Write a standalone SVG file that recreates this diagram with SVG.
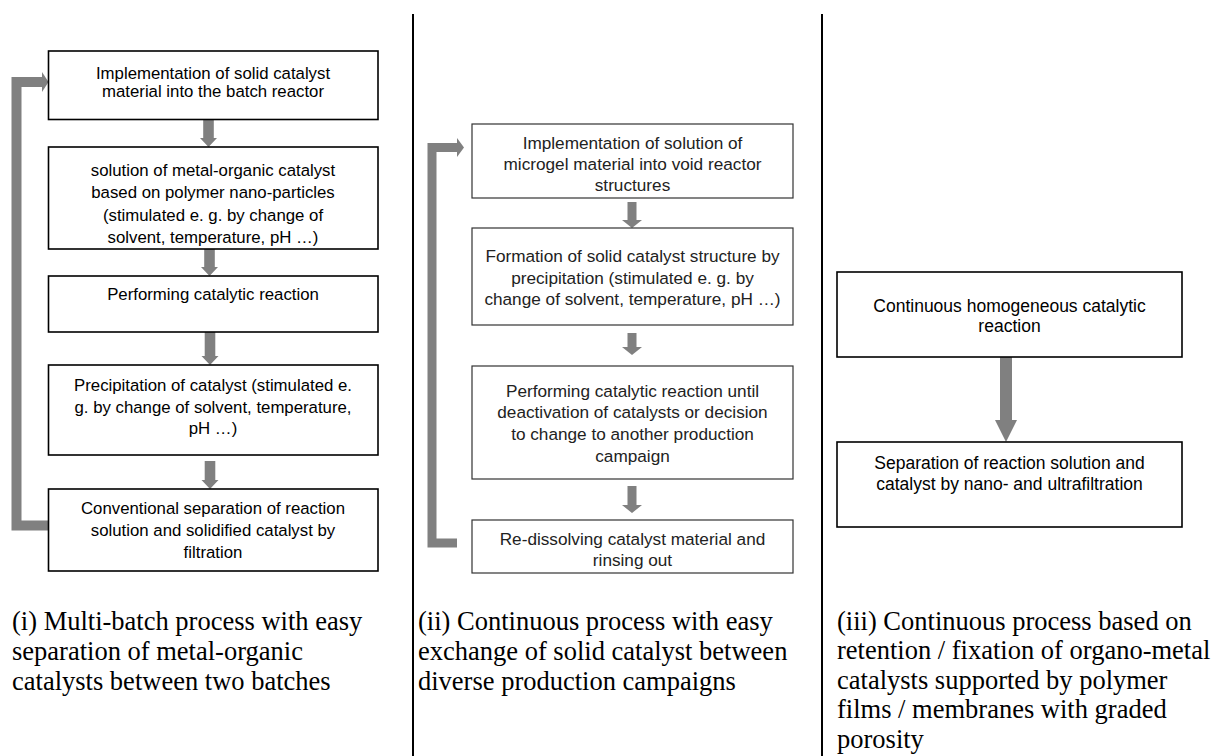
<svg xmlns="http://www.w3.org/2000/svg" width="1215" height="756" viewBox="0 0 1215 756">
<style>
.box{fill:#fff;stroke:#000;stroke-width:1.6}
.box2{fill:#fff;stroke:#333;stroke-width:1.2}
.t1{font-family:"Liberation Sans",Arial,sans-serif;font-size:16.8px;fill:#000;text-anchor:middle}
.t2{font-family:"Liberation Sans",Arial,sans-serif;font-size:17.2px;fill:#222;text-anchor:middle}
.t3{font-family:"Liberation Sans",Arial,sans-serif;font-size:17.5px;fill:#000;text-anchor:middle}
.cap{font-family:"Liberation Serif","Times New Roman",serif;font-size:26.5px;fill:#000}
.arrow{fill:#808080;stroke:none}
.loop{fill:none;stroke:#808080;stroke-linejoin:miter}
.div{stroke:#000;stroke-width:2}
</style>
<rect width="1215" height="756" fill="#fff"/>
<g id="dividers">
<line class="div" x1="413" y1="14" x2="413" y2="756"/>
<line class="div" x1="822" y1="14" x2="822" y2="756"/>
</g>
<g id="connectors">
<path class="loop" stroke-width="10" d="M48,525.5 H16.5 V82 H42"/>
<polygon class="arrow" points="42,72 48.5,82 42,92"/>
<polygon class="arrow" points="203.2,120 213.8,120 213.8,138 217,138 208.5,147 200,138 203.2,138"/>
<polygon class="arrow" points="204.2,249 214.8,249 214.8,267 218,267 209.5,276 201,267 204.2,267"/>
<polygon class="arrow" points="204.7,332 215.3,332 215.3,356 218.5,356 210,365 201.5,356 204.7,356"/>
<polygon class="arrow" points="204.7,461 215.3,461 215.3,480 218.5,480 210,489 201.5,480 204.7,480"/>
<path class="loop" stroke-width="9" d="M457,543 H432 V147.5 H457.5"/>
<polygon class="arrow" points="457,138 464,147.5 457,157"/>
<polygon class="arrow" points="627.5,202 636.5,202 636.5,220 642,220 632,228 622,220 627.5,220"/>
<polygon class="arrow" points="627.5,333 636.5,333 636.5,347 642,347 632,355 622,347 627.5,347"/>
<polygon class="arrow" points="627.5,486 636.5,486 636.5,505 642,505 632,513 622,505 627.5,505"/>
<polygon class="arrow" points="1000,357 1012,357 1012,420 1017,420 1006,442 995,420 1000,420"/>
</g>
<g id="node-i1">
<rect class="box" x="48.5" y="51" width="329.5" height="68.5"/>
<text class="t1" x="213" y="78.5">Implementation of solid catalyst</text>
<text class="t1" x="213" y="96.5">material into the batch reactor</text>
</g>
<g id="node-i2">
<rect class="box" x="48.5" y="147" width="329.5" height="102"/>
<text class="t1" x="213" y="175.7">solution of metal-organic catalyst</text>
<text class="t1" x="213" y="198.3">based on polymer nano-particles</text>
<text class="t1" x="213" y="220.8">(stimulated e. g. by change of</text>
<text class="t1" x="213" y="243.3">solvent, temperature, pH …)</text>
</g>
<g id="node-i3">
<rect class="box" x="48.5" y="276" width="329.5" height="56"/>
<text class="t1" x="213" y="300">Performing catalytic reaction</text>
</g>
<g id="node-i4">
<rect class="box" x="48.5" y="365" width="329.5" height="90"/>
<text class="t1" x="213" y="390.7">Precipitation of catalyst (stimulated e.</text>
<text class="t1" x="213" y="412.5">g. by change of solvent, temperature,</text>
<text class="t1" x="213" y="434.2">pH …)</text>
</g>
<g id="node-i5">
<rect class="box" x="48.5" y="489" width="329.5" height="82"/>
<text class="t1" x="213" y="514.2">Conventional separation of reaction</text>
<text class="t1" x="213" y="536">solution and solidified catalyst by</text>
<text class="t1" x="213" y="557.6">filtration</text>
</g>
<g id="node-ii1">
<rect class="box2" x="472" y="124" width="321" height="74"/>
<text class="t2" x="632.5" y="149">Implementation of solution of</text>
<text class="t2" x="632.5" y="170">microgel material into void reactor</text>
<text class="t2" x="632.5" y="191">structures</text>
</g>
<g id="node-ii2">
<rect class="box2" x="472" y="228" width="321" height="97"/>
<text class="t2" x="632.5" y="262.3">Formation of solid catalyst structure by</text>
<text class="t2" x="632.5" y="283.6">precipitation (stimulated e. g. by</text>
<text class="t2" x="632.5" y="305">change of solvent, temperature, pH …)</text>
</g>
<g id="node-ii3">
<rect class="box2" x="472" y="366" width="321" height="113"/>
<text class="t2" x="632.5" y="396.5">Performing catalytic reaction until</text>
<text class="t2" x="632.5" y="418.3">deactivation of catalysts or decision</text>
<text class="t2" x="632.5" y="440">to change to another production</text>
<text class="t2" x="632.5" y="461.8">campaign</text>
</g>
<g id="node-ii4">
<rect class="box2" x="472" y="520" width="321" height="53"/>
<text class="t2" x="632.5" y="545">Re-dissolving catalyst material and</text>
<text class="t2" x="632.5" y="565.5">rinsing out</text>
</g>
<g id="node-iii1">
<rect class="box" x="837" y="272" width="345" height="85"/>
<text class="t3" x="1009.5" y="311.5">Continuous homogeneous catalytic</text>
<text class="t3" x="1009.5" y="332">reaction</text>
</g>
<g id="node-iii2">
<rect class="box" x="837" y="442" width="345" height="85"/>
<text class="t3" x="1009.5" y="469.3">Separation of reaction solution and</text>
<text class="t3" x="1009.5" y="490">catalyst by nano- and ultrafiltration</text>
</g>
<g id="captions">
<text class="cap" x="12"><tspan x="12" y="629.5">(i) Multi-batch process with easy</tspan><tspan x="12" y="659.5">separation of metal-organic</tspan><tspan x="12" y="689.5">catalysts between two batches</tspan></text>
<text class="cap" x="418"><tspan x="418" y="629.5">(ii) Continuous process with easy</tspan><tspan x="418" y="659.5">exchange of solid catalyst between</tspan><tspan x="418" y="689.5">diverse production campaigns</tspan></text>
<text class="cap" x="837"><tspan x="837" y="629.5">(iii) Continuous process based on</tspan><tspan x="837" y="659">retention / fixation of organo-metal</tspan><tspan x="837" y="688.5">catalysts supported by polymer</tspan><tspan x="837" y="718">films / membranes with graded</tspan><tspan x="837" y="747.5">porosity</tspan></text>
</g>
</svg>
